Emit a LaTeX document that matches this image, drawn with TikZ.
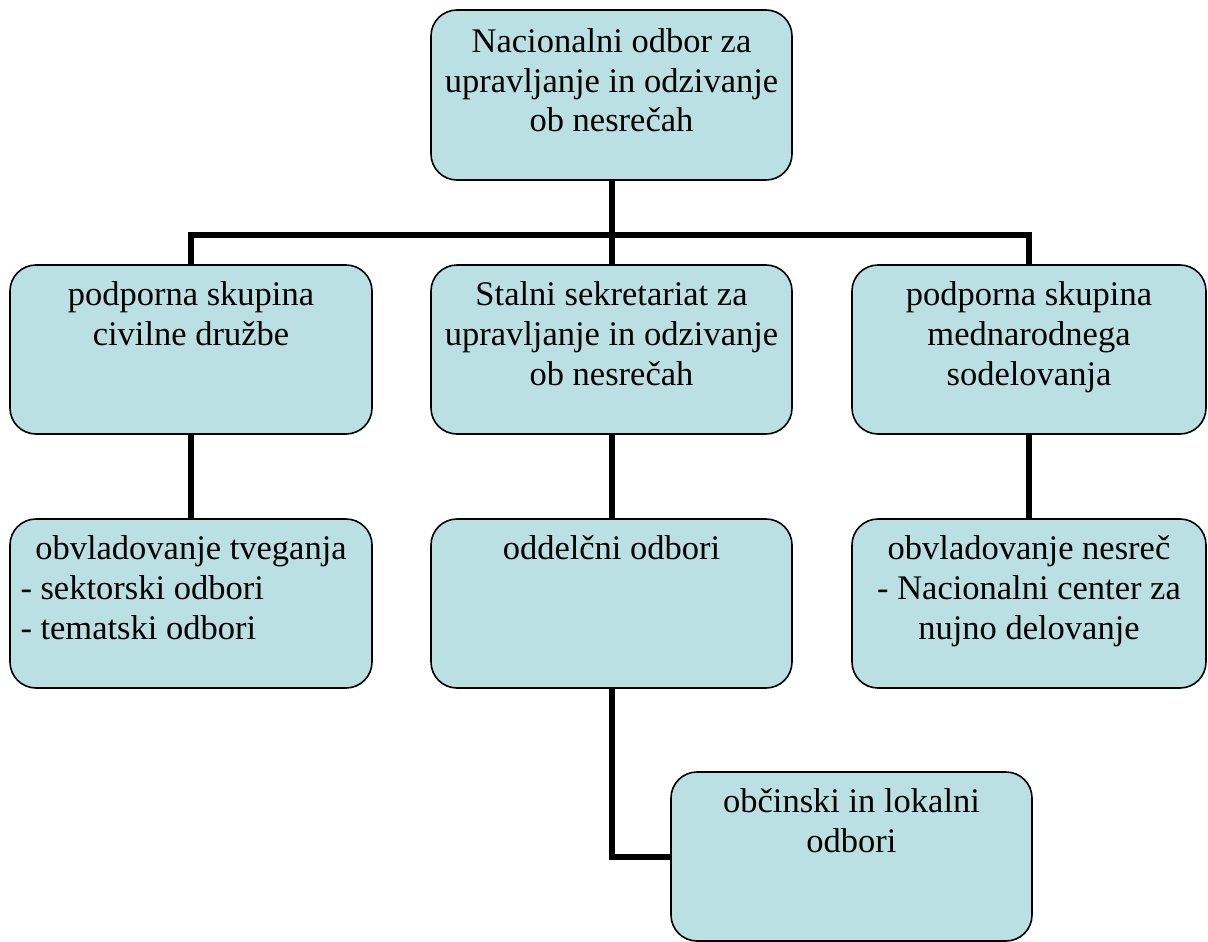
\documentclass[tikz,border=0pt]{standalone}
\usepackage{fontspec}
\setmainfont{Liberation Serif}
\definecolor{boxfill}{HTML}{BBE0E3}
\newcommand{\bxt}[3]{\parbox[c][#2][t]{#1}{\fontsize{34.5}{40}\selectfont #3}}
\begin{document}
\begin{tikzpicture}[x=1pt,y=-1pt,
  orgbox/.style={draw=black,line width=1.6pt,fill=boxfill,rounded corners=26pt,inner sep=0pt,outer sep=0pt},
  conn/.style={draw=black,line width=6pt}]
\useasboundingbox (0,0) rectangle (1208,942);
\coordinate (bus) at (611.5,235);
% nodes
\node[orgbox] (top) at (611.5,95) {\bxt{361pt}{170pt}{\centering\rule{0pt}{42pt}Nacionalni odbor za\\upravljanje in odzivanje\\ob nesrečah}};
\node[orgbox] (civ) at (191,349.5) {\bxt{362pt}{169pt}{\centering\rule{0pt}{40pt}podporna skupina\\civilne družbe}};
\node[orgbox] (sek) at (611.5,349.5) {\bxt{361pt}{169pt}{\centering\rule{0pt}{40pt}Stalni sekretariat za\\upravljanje in odzivanje\\ob nesrečah}};
\node[orgbox] (med) at (1029,349.5) {\bxt{354pt}{169pt}{\centering\rule{0pt}{40pt}podporna skupina\\mednarodnega\\sodelovanja}};
\node[orgbox] (tve) at (191,603.5) {\bxt{362pt}{169pt}{{\centering\rule{0pt}{40pt}obvladovanje tveganja\par}\raggedright\leftskip=10.5pt - sektorski odbori\\- tematski odbori}};
\node[orgbox] (odd) at (611.5,603.5) {\bxt{361pt}{169pt}{\centering\rule{0pt}{40pt}oddelčni odbori}};
\node[orgbox] (nes) at (1029,603.5) {\bxt{354pt}{169pt}{\centering\rule{0pt}{40pt}obvladovanje nesreč\\- Nacionalni center za\\nujno delovanje}};
\node[orgbox] (obc) at (851.5,856.5) {\bxt{361pt}{169pt}{\centering\rule{0pt}{40pt}občinski in lokalni\\odbori}};
% connectors
\draw[conn] (top.south) -- (sek.north);
\draw[conn] (civ.north) |- (bus) -| (med.north);
\draw[conn] (civ.south) -- (tve.north);
\draw[conn] (med.south) -- (nes.north);
\draw[conn] (sek.south) -- (odd.north);
\draw[conn] (odd.south) |- (obc.west);
\end{tikzpicture}
\end{document}
